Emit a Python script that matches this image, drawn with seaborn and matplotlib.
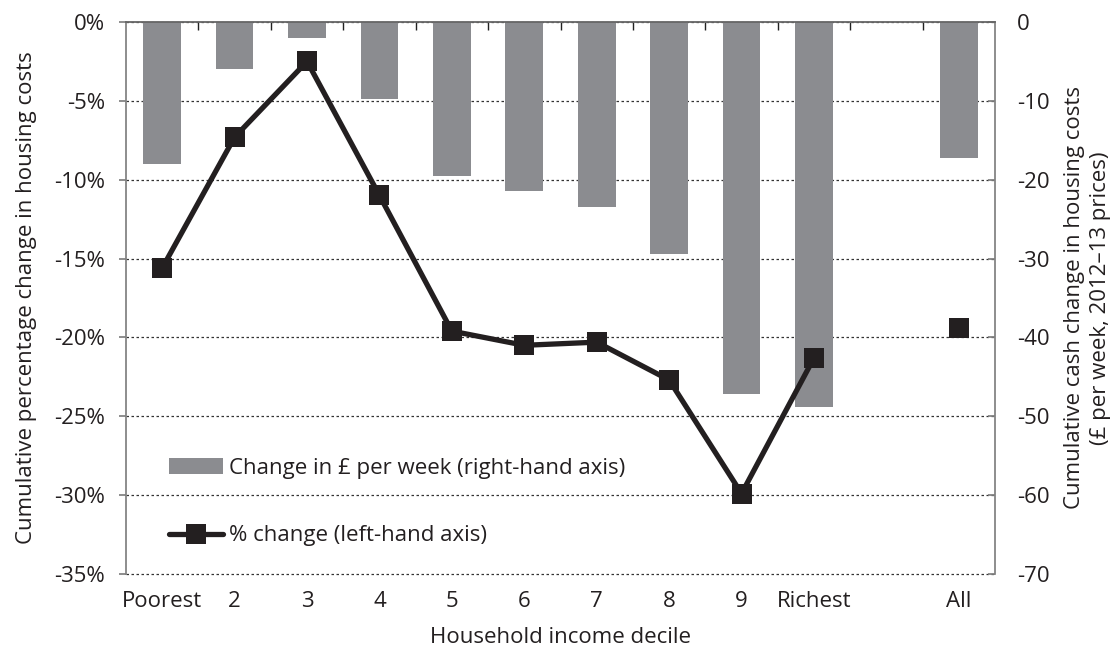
import numpy as np
import pandas as pd
import matplotlib
matplotlib.use('Agg')
import matplotlib.pyplot as plt
import seaborn as sns
from matplotlib.patches import Patch
from matplotlib.lines import Line2D
from matplotlib.ticker import FuncFormatter, MultipleLocator, FixedLocator

# values
deciles = ['Poorest', '2', '3', '4', '5', '6', '7', '8', '9', 'Richest']
all_label = 'All'
cash_change = [-18.0, -5.9, -2.0, -9.8, -19.5, -21.4, -23.5, -29.4, -47.2, -48.8]   # £ per week
cash_change_all = -17.3
pct_change = [-15.6, -7.3, -2.5, -11.0, -19.6, -20.5, -20.3, -22.7, -29.9, -21.3]   # %
pct_change_all = -19.4

# empty slot between Richest and All
order = deciles + [' ', all_label]

df = pd.DataFrame({
    'decile': deciles + [all_label],
    'cash': cash_change + [cash_change_all],
    'pct': pct_change + [pct_change_all],
})
df['pos'] = [order.index(d) for d in df['decile']]

bar_color = '#8b8c90'
line_color = '#231f20'
text_color = '#231f20'
spine_color = '#808080'

sns.set_theme(style='white')
plt.rcParams['font.family'] = ['Open Sans', 'DejaVu Sans']
plt.rcParams['axes.unicode_minus'] = False
plt.rcParams['text.color'] = text_color
plt.rcParams['axes.labelcolor'] = text_color
plt.rcParams['xtick.color'] = text_color
plt.rcParams['ytick.color'] = text_color
fs = 16

fig, ax = plt.subplots(figsize=(11.17, 6.51), dpi=100)
fig.subplots_adjust(left=0.1128, right=0.8908, top=0.9662, bottom=0.1183)
ax2 = ax.twinx()

# bars on the right-hand axis
sns.barplot(data=df, x='decile', y='cash', order=order, ax=ax2, color=bar_color,
            saturation=1, width=0.52, edgecolor='none')
ax2.set_ylim(-70, 0)
ax2.yaxis.set_major_locator(MultipleLocator(10))
ax2.yaxis.set_major_formatter(FuncFormatter(lambda v, p: f'{v:.0f}'))
ax2.grid(axis='y', linestyle=(0, (2, 2)), color='#333333', lw=0.9)
ax2.grid(axis='x', visible=False)
for gl in ax2.get_ygridlines():
    gl.set_clip_on(False)
ax2.set_axisbelow(True)
ax2.set_ylabel('Cumulative cash change in housing costs\n(£ per week, 2012–13 prices)',
               fontsize=fs, labelpad=10, linespacing=1.3)
ax2.tick_params(axis='y', direction='in', length=5, color=spine_color, labelsize=fs, pad=16)

# line on the left-hand axis
line_df = df[df['decile'] != all_label]
sns.lineplot(data=line_df, x='pos', y='pct', ax=ax, color=line_color, lw=3.8,
             marker='s', markersize=14, markeredgewidth=0)
all_df = df[df['decile'] == all_label]
sns.scatterplot(data=all_df, x='pos', y='pct', ax=ax, color=line_color, marker='s',
                s=14 ** 2, linewidth=0)

ax.set_zorder(ax2.get_zorder() + 1)
ax.patch.set_visible(False)

ax.set_ylim(-35, 0)
ax.yaxis.set_major_locator(MultipleLocator(5))
ax.yaxis.set_major_formatter(FuncFormatter(lambda v, p: f'{v:.0f}%'))
ax.set_ylabel('Cumulative percentage change in housing costs', fontsize=fs, labelpad=12)
ax.tick_params(axis='y', direction='out', length=5, color=spine_color, labelsize=fs,
               left=True, pad=10)

ax.set_xlim(-0.5, len(order) - 0.5)
ax.xaxis.set_major_locator(FixedLocator(range(len(order))))
ax.set_xticklabels(order)
ax.xaxis.set_minor_locator(FixedLocator(np.arange(0.5, len(order) - 1)))
ax.tick_params(axis='x', which='major', length=0, labelsize=fs, pad=12, bottom=True)
ax.tick_params(axis='x', which='minor', top=True, bottom=False, direction='in',
               length=6, color='#222222')
ax.set_xlabel('Household income decile', fontsize=fs, labelpad=11)

for a in (ax, ax2):
    for side in ('top', 'bottom', 'left', 'right'):
        a.spines[side].set_visible(False)
ax.spines['left'].set_visible(True)
ax.spines['left'].set_color(spine_color)
ax.spines['top'].set_visible(True)
ax.spines['top'].set_color('#666666')
ax.spines['top'].set_linewidth(1.3)
ax2.spines['right'].set_visible(True)
ax2.spines['right'].set_color(spine_color)

handles = [
    Patch(facecolor=bar_color, edgecolor='none', label='Change in £ per week (right-hand axis)'),
    Line2D([0], [0], color=line_color, lw=3.8, marker='s', markersize=14,
           markeredgewidth=0, label='% change (left-hand axis)'),
]
ax.legend(handles=handles, loc='lower left', bbox_to_anchor=(0.05, 0.05), frameon=False,
          fontsize=fs, handlelength=2.4, labelspacing=2.1, handletextpad=0.3,
          borderpad=0, borderaxespad=0)

plt.savefig('out.png', dpi=100)
